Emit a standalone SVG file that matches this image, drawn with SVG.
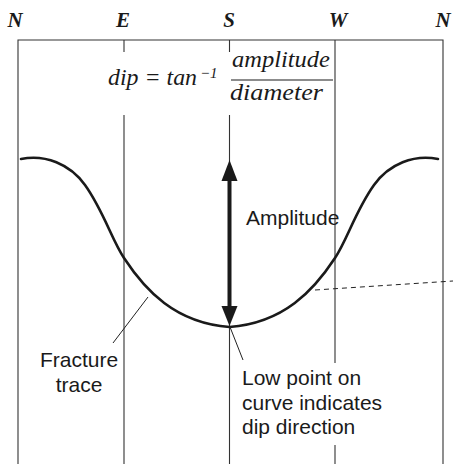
<svg xmlns="http://www.w3.org/2000/svg" width="453" height="464" viewBox="0 0 453 464">
<defs>
<style>
.frame{stroke:#333;stroke-width:1.1;fill:none}
.curve{stroke:#1a1a1a;stroke-width:2.6;fill:none;stroke-linecap:round}
.lead{stroke:#222;stroke-width:1;fill:none}
.dash{stroke:#222;stroke-width:1;fill:none;stroke-dasharray:5 4}
.hdr{font-family:"Liberation Serif",serif;font-weight:bold;font-style:italic;font-size:21px;fill:#1a1a1a;text-anchor:middle}
.frm{font-family:"Liberation Serif",serif;font-style:italic;font-size:24px;fill:#1a1a1a}
.lbl{font-family:"Liberation Sans",Arial,sans-serif;font-size:21px;fill:#1a1a1a}
</style>
</defs>
<g id="frame">
<path class="frame" d="M18,464 V40 H443 V464"/>
<path class="frame" d="M124,40 V52 M124,115 V464"/>
<path class="frame" d="M229.5,40 V52 M229.5,115 V170 M229.5,320 V464"/>
<path class="frame" d="M335,40 V363 M335,445 V464"/>
</g>
<g id="headers">
<text class="hdr" x="15" y="27">N</text>
<text class="hdr" x="123" y="27">E</text>
<text class="hdr" x="229" y="27">S</text>
<text class="hdr" x="338" y="27">W</text>
<text class="hdr" x="443" y="27">N</text>
</g>
<g id="formula">
<text class="frm" x="108" y="85" textLength="89" lengthAdjust="spacingAndGlyphs">dip = tan</text>
<text class="frm" x="200" y="78" style="font-size:15px">−1</text>
<text class="frm" x="232" y="67" textLength="98" lengthAdjust="spacingAndGlyphs">amplitude</text>
<line x1="231" y1="80" x2="333" y2="80" stroke="#1a1a1a" stroke-width="1.2"/>
<text class="frm" x="230" y="100" textLength="93" lengthAdjust="spacingAndGlyphs">diameter</text>
</g>
<g id="fracture-trace">
<path class="curve" d="M21,159 C45,154 70,164 85,185 C103,210 112,240 124,258 C145,290 175,323 229.5,327 C284,323 314,290 335,258 C347,240 356,210 374,185 C389,164 414,154 438,159"/>
</g>
<g id="amplitude">
<line x1="229.5" y1="178" x2="229.5" y2="309" stroke="#1a1a1a" stroke-width="4"/>
<path d="M229.5,160 L237.5,181 L221.5,181 Z" fill="#1a1a1a"/>
<path d="M229.5,326 L237.5,306 L221.5,306 Z" fill="#1a1a1a"/>
<text class="lbl" x="246" y="225">Amplitude</text>
</g>
<g id="connectors">
<line class="dash" x1="315" y1="290" x2="453" y2="281"/>
<line class="lead" x1="148" y1="297" x2="113" y2="343"/>
<line class="lead" x1="230" y1="327" x2="243" y2="360"/>
</g>
<g id="label-fracture">
<text class="lbl" x="79" y="367" text-anchor="middle">Fracture</text>
<text class="lbl" x="79" y="392" text-anchor="middle">trace</text>
</g>
<g id="label-low">
<text class="lbl" x="242" y="385">Low point on</text>
<text class="lbl" x="242" y="410">curve indicates</text>
<text class="lbl" x="242" y="434">dip direction</text>
</g>
</svg>
